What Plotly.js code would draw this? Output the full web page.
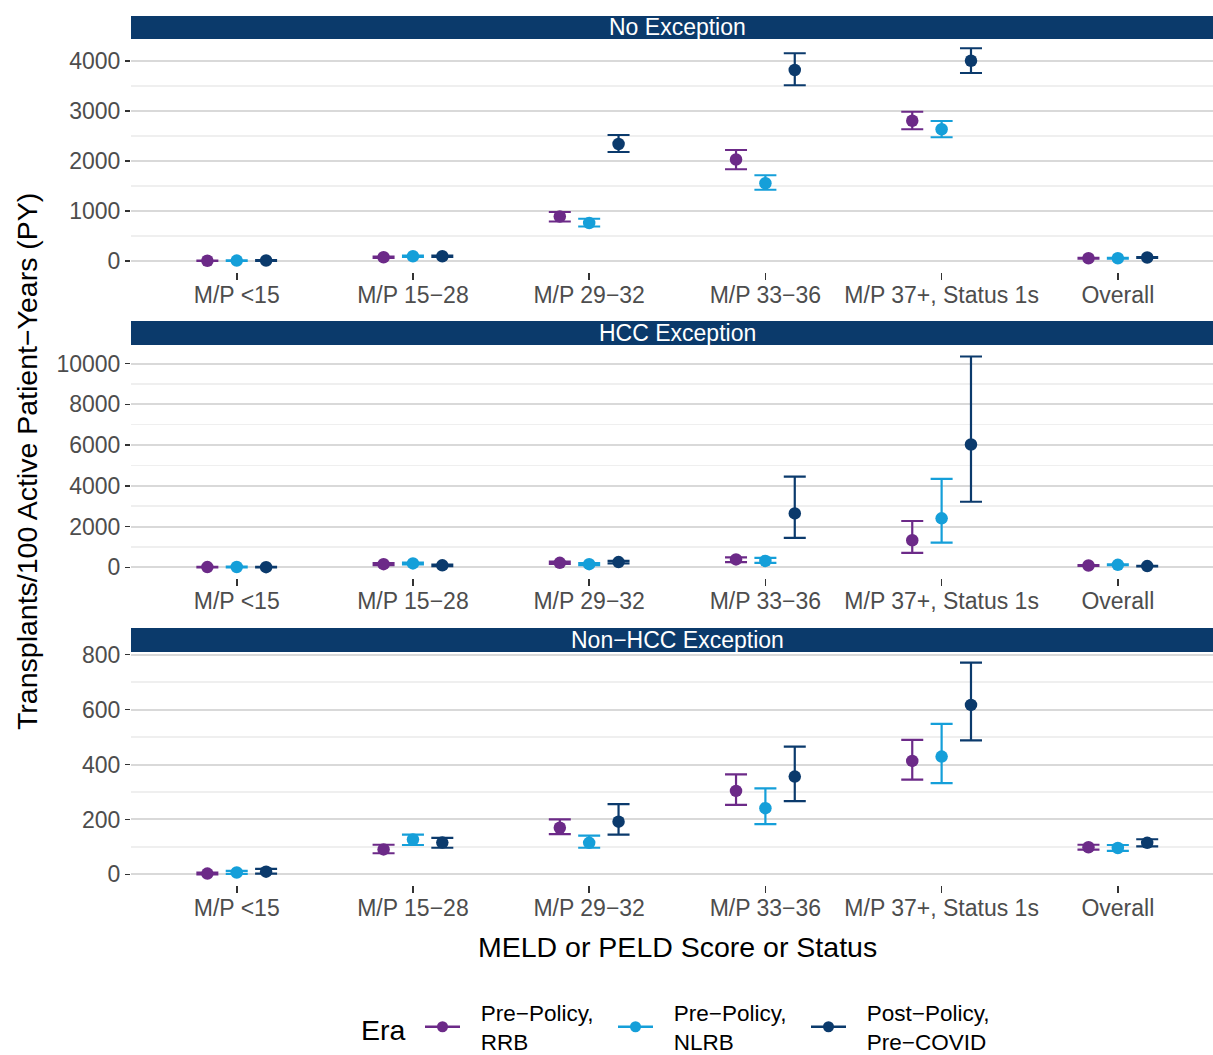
<!DOCTYPE html>
<html>
<head>
<meta charset="utf-8">
<script src="https://cdn.plot.ly/plotly-3.0.1.min.js"></script>
<style>
  html, body { margin: 0; padding: 0; background: #fff; }
  #chart { width: 1213px; height: 1055px; }
</style>
</head>
<body>
<div id="chart"></div>
<script>
const categories = ["M/P <15", "M/P 15\u221228", "M/P 29\u221232", "M/P 33\u221236", "M/P 37+, Status 1s", "Overall"];
const eras = [["Pre\u2212Policy,", "RRB"], ["Pre\u2212Policy,", "NLRB"], ["Post\u2212Policy,", "Pre\u2212COVID"]];
const panels = ["No Exception", "HCC Exception", "Non\u2212HCC Exception"];

// No Exception
const noExcRRB = [5, 75, 890, 2030, 2805, 55];
const noExcRRBLo = [0, 60, 790, 1835, 2635, 45];
const noExcRRBHi = [10, 90, 980, 2220, 2985, 65];
const noExcNLRB = [8, 95, 760, 1555, 2635, 55];
const noExcNLRBLo = [2, 80, 690, 1425, 2475, 45];
const noExcNLRBHi = [14, 110, 845, 1715, 2800, 65];
const noExcPost = [10, 95, 2340, 3820, 4005, 70];
const noExcPostLo = [3, 80, 2180, 3515, 3760, 60];
const noExcPostHi = [17, 110, 2520, 4155, 4255, 80];

// HCC Exception
const hccRRB = [15, 160, 225, 390, 1330, 95];
const hccRRBLo = [0, 110, 170, 260, 715, 75];
const hccRRBHi = [30, 210, 280, 490, 2275, 115];
const hccNLRB = [20, 195, 160, 320, 2405, 125];
const hccNLRBLo = [0, 150, 110, 225, 1220, 105];
const hccNLRBHi = [40, 240, 210, 470, 4345, 145];
const hccPost = [10, 100, 260, 2650, 6030, 65];
const hccPostLo = [0, 60, 200, 1445, 3220, 50];
const hccPostHi = [25, 140, 320, 4455, 10345, 80];

// Non-HCC Exception
const nonHccRRB = [3, 91, 170, 304, 413, 99];
const nonHccRRBLo = [0, 77, 147, 253, 345, 90];
const nonHccRRBHi = [7, 108, 200, 364, 490, 108];
const nonHccNLRB = [7, 127, 115, 241, 429, 96];
const nonHccNLRBLo = [2, 107, 97, 183, 332, 86];
const nonHccNLRBHi = [13, 145, 141, 313, 548, 107];
const nonHccPost = [10, 116, 192, 356, 617, 115];
const nonHccPostLo = [3, 97, 145, 267, 488, 102];
const nonHccPostHi = [20, 133, 256, 465, 771, 128];

const colors = ["#6c2a88", "#159fd9", "#0b3a6c"];
const stripColor = "#0b3a6b";
const H = 1055;
const W = 1082;
const fy = (px) => 1 - px / H;
const fx = (px) => (px - 131) / W;

const panelData = [
  [[noExcRRB, noExcRRBLo, noExcRRBHi], [noExcNLRB, noExcNLRBLo, noExcNLRBHi], [noExcPost, noExcPostLo, noExcPostHi]],
  [[hccRRB, hccRRBLo, hccRRBHi], [hccNLRB, hccNLRBLo, hccNLRBHi], [hccPost, hccPostLo, hccPostHi]],
  [[nonHccRRB, nonHccRRBLo, nonHccRRBHi], [nonHccNLRB, nonHccNLRBLo, nonHccNLRBHi], [nonHccPost, nonHccPostLo, nonHccPostHi]]
];

// pixel boxes of each panel (plot top/bottom, strip top)
const boxes = [
  { strip: 16, top: 39, bottom: 272, range: [-220, 4440], dtick: 1000 },
  { strip: 321, top: 345, bottom: 578, range: [-520, 10910], dtick: 2000 },
  { strip: 628, top: 652, bottom: 885, range: [-38.5, 809.5], dtick: 200 }
];
const dodge = [-1 / 6, 0, 1 / 6];

const traces = [];
panelData.forEach((series, p) => {
  const ax = p === 0 ? "" : String(p + 1);
  series.forEach(([est, lo, hi], e) => {
    traces.push({
      type: "scatter",
      mode: "markers",
      x: categories.map((_, i) => i + dodge[e]),
      y: est,
      xaxis: "x" + ax,
      yaxis: "y" + ax,
      showlegend: false,
      marker: { color: colors[e], size: 12.5 },
      error_y: {
        type: "data",
        symmetric: false,
        array: est.map((v, i) => hi[i] - v),
        arrayminus: est.map((v, i) => v - lo[i]),
        color: colors[e],
        thickness: 2.2,
        width: 11
      }
    });
  });
});
// legend entries; leading spaces open the gap between key and label
const pad = "\u2002\u2009";
eras.forEach((lines, e) => {
  traces.push({
    type: "scatter",
    mode: "lines+markers",
    x: [null],
    y: [null],
    name: lines.map((t) => pad + t).join("<br>"),
    showlegend: true,
    line: { color: colors[e], width: 2.5 },
    marker: { color: colors[e], size: 11 }
  });
});

const layout = {
  width: 1213,
  height: 1055,
  margin: { l: 131, r: 0, t: 0, b: 0, autoexpand: false },
  paper_bgcolor: "#fff",
  plot_bgcolor: "#fff",
  font: { family: "Liberation Sans, Arial, sans-serif", color: "#000" },
  showlegend: true,
  legend: {
    orientation: "h",
    x: fx(420),
    xanchor: "left",
    y: fy(991),
    yanchor: "top",
    font: { size: 22.5, color: "#000" },
    itemwidth: 35,
    entrywidth: 143,
    tracegroupgap: 0
  },
  shapes: [],
  annotations: []
};

boxes.forEach((b, p) => {
  const ax = p === 0 ? "" : String(p + 1);
  layout["xaxis" + ax] = {
    domain: [0, 1],
    anchor: "y" + ax,
    range: [-0.6, 5.54],
    tickmode: "array",
    tickvals: categories.map((_, i) => i),
    ticktext: categories,
    showgrid: false,
    zeroline: false,
    showline: false,
    ticks: "outside",
    ticklen: 7,
    tickwidth: 1.6,
    tickcolor: "#333",
    ticklabelstandoff: -5,
    tickfont: { size: 23, color: "#4d4d4d" },
    fixedrange: true
  };
  layout["yaxis" + ax] = {
    domain: [fy(b.bottom), fy(b.top)],
    anchor: "x" + ax,
    range: b.range,
    tick0: 0,
    dtick: b.dtick,
    tickformat: "d",
    showgrid: true,
    gridcolor: "#d9d9d9",
    gridwidth: 2,
    minor: { dtick: b.dtick / 2, showgrid: true, gridcolor: "#efefef", gridwidth: 1.5 },
    zeroline: false,
    showline: false,
    ticks: "outside",
    ticklen: 5,
    tickwidth: 1.6,
    tickcolor: "#333",
    tickfont: { size: 23, color: "#4d4d4d" },
    fixedrange: true
  };
  layout.shapes.push({
    type: "rect", xref: "paper", yref: "paper",
    x0: 0, x1: 1, y0: fy(b.top), y1: fy(b.strip),
    fillcolor: stripColor, line: { width: 0 }, layer: "above"
  });
  layout.annotations.push({
    xref: "paper", yref: "paper",
    x: 0.505, y: fy((b.strip + b.top) / 2),
    text: panels[p], showarrow: false,
    font: { size: 23, color: "#fff" },
    xanchor: "center", yanchor: "middle"
  });
});

layout.annotations.push({
  xref: "paper", yref: "paper",
  x: fx(27), y: fy(462),
  text: "Transplants/100 Active Patient\u2212Years (PY)",
  textangle: -90, showarrow: false,
  font: { size: 28.5, color: "#000" },
  xanchor: "center", yanchor: "middle"
});
layout.annotations.push({
  xref: "paper", yref: "paper",
  x: 0.505, y: fy(947),
  text: "MELD or PELD Score or Status",
  showarrow: false,
  font: { size: 28.5, color: "#000" },
  xanchor: "center", yanchor: "middle"
});
layout.annotations.push({
  xref: "paper", yref: "paper",
  x: fx(383.5), y: fy(1030),
  text: "Era",
  showarrow: false,
  font: { size: 28.5, color: "#000" },
  xanchor: "center", yanchor: "middle"
});

Plotly.newPlot("chart", traces, layout, { displayModeBar: false, staticPlot: true });
</script>
</body>
</html>
